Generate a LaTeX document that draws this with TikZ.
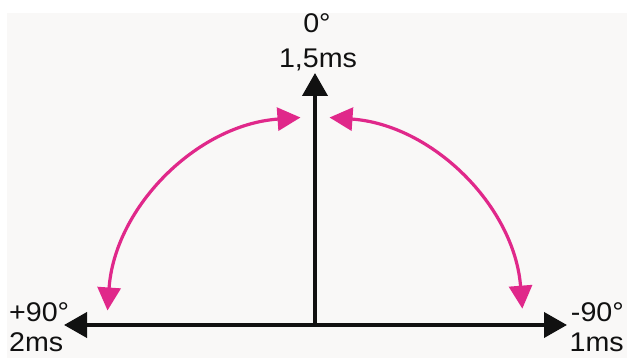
\documentclass[tikz,border=0pt]{standalone}
\usepackage{fontspec}
\setmainfont[FakeStretch=1.06]{Liberation Sans}
\usetikzlibrary{arrows.meta}
\definecolor{bgc}{HTML}{F9F8F7}
\definecolor{arcc}{HTML}{E0288A}
\definecolor{axc}{HTML}{111111}
\begin{document}
\begin{tikzpicture}[x=1pt,y=1pt,
  axis/.style={draw=axc,line width=4pt,-{Triangle[length=23pt,width=25pt]}},
  swing/.style={draw=arcc,line width=3.2pt,{Triangle[length=23pt,width=23pt]}-{Triangle[length=23pt,width=23pt]}},
  lbl/.style={inner sep=0pt,text=axc,font=\fontsize{27}{31}\selectfont}]
\useasboundingbox (0,0) rectangle (627,358);
\fill[white] (0,0) rectangle (627,358);
\fill[bgc] (7,0) rectangle (627,345);
\coordinate (O) at (315,33);
\coordinate (T) at (315,285);
\coordinate (L) at (64,33);
\coordinate (R) at (567,33);
\draw[axis] (O) -- (T);
\draw[axis] (O) -- (L);
\draw[axis] (O) -- (R);
\draw[swing] ([shift={(94:208)}]O) arc[start angle=94,end angle=176,radius=208];
\draw[swing] ([shift={(4.5:208)}]O) arc[start angle=4.5,end angle=86,radius=208];
\node[lbl,anchor=base] (z1) at (317,325) {0°};
\node[lbl,anchor=base] (z2) at (318,290) {1,5ms};
\node[lbl,anchor=base west] (p1) at (9,36) {+90°};
\node[lbl,anchor=base west] (p2) at (9,6) {2ms};
\node[lbl,anchor=base east] (m1) at (624,36) {-90°};
\node[lbl,anchor=base east] (m2) at (624,6) {1ms};
\end{tikzpicture}
\end{document}
